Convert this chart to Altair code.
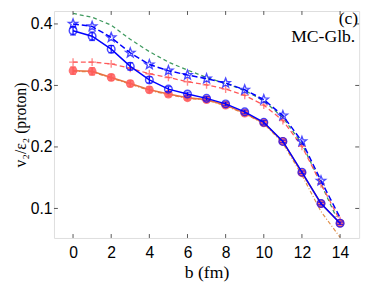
import math
import altair as alt
import pandas as pd

b = list(range(15))

star_vals = [0.400, 0.396, 0.378, 0.353, 0.334, 0.324, 0.317, 0.311, 0.304, 0.293, 0.277, 0.251, 0.209, 0.145, None]
star_line_end = 0.085
blue_circ = [0.389, 0.380, 0.359, 0.331, 0.309, 0.294, 0.286, 0.279, 0.270, 0.257, 0.240, 0.209, 0.159, 0.108, 0.076]
blue_err = [0.007, 0.007, 0.006, 0.006, 0.005, 0.004, 0.003, 0.003, 0.003, 0.003, 0.003, 0.002, 0.002, 0.002, 0.002]
red_circ = [0.324, 0.323, 0.313, 0.303, 0.293, 0.286, 0.280, 0.277, 0.268, 0.255, 0.239, 0.209, 0.158, 0.108, 0.076]
red_err = [0.006, 0.006, 0.005, 0.005, 0.005, 0.004, 0.004, 0.004, 0.003, 0.003, 0.003, 0.002, 0.002, 0.002, 0.002]
red_plus = [0.338, 0.338, 0.335, 0.328, 0.319, 0.313, 0.306, 0.301, 0.294, 0.284, 0.268, 0.243, 0.201, 0.140, 0.080]
green_b = [0, 1, 2, 3, 4, 5, 6, 7, 8, 9, 10, 11, 12, 13, 13.8]
green = [0.417, 0.411, 0.398, 0.375, 0.355, 0.338, 0.325, 0.313, 0.303, 0.292, 0.275, 0.248, 0.205, 0.140, 0.086]
orange_b = [0, 1, 2, 3, 4, 5, 6, 7, 8, 9, 10, 11, 12, 13, 14]
orange = [0.323, 0.322, 0.312, 0.302, 0.292, 0.285, 0.279, 0.276, 0.267, 0.254, 0.238, 0.206, 0.154, 0.095, 0.053]

x_ticks = [0, 2, 4, 6, 8, 10, 12, 14]
y_ticks = [0.1, 0.2, 0.3, 0.4]

W, H = 312, 232
XD = [-1, 15]
YD = [0.052, 0.421]

# marker shapes
pts = []
for k in range(10):
    r = 1.0 if k % 2 == 0 else 0.42
    a = math.radians(-90 + 36 * k)
    pts.append(f"{r*math.cos(a):.3f},{r*math.sin(a):.3f}")
STAR = "M" + "L".join(pts) + "Z"
PLUS = "M-1,0L1,0M0,-1L0,1"

xs = alt.Scale(domain=XD, nice=False)
ys = alt.Scale(domain=YD, nice=False)
X = alt.X("b:Q", scale=xs, axis=alt.Axis(values=x_ticks, title="b (fm)", ticks=False, grid=False, domain=False,
                                         labelFont="Liberation Sans", labelFontSize=16, labelColor="black",
                                         labelPadding=7, titleFont="Liberation Serif", titleFontSize=18,
                                         titleFontWeight="normal", titlePadding=3, titleColor="black"))
Y = alt.Y("v:Q", scale=ys, axis=alt.Axis(values=y_ticks, format=".1f", title="v₂/ε₂ (proton)", ticks=False,
                                         grid=False, domain=False, labelFont="Liberation Sans", labelFontSize=16,
                                         labelColor="black", labelPadding=2, titleFont="Liberation Serif",
                                         titleFontSize=16, titleFontWeight="normal", titlePadding=2,
                                         titleColor="black"))

def df(xv, yv, err=None):
    rows = []
    for i, (a, c) in enumerate(zip(xv, yv)):
        if c is None:
            continue
        r = {"b": a, "v": c}
        if err is not None:
            r["lo"] = c - err[i]
            r["hi"] = c + err[i]
        rows.append(r)
    return pd.DataFrame(rows)

d_green = df(green_b, green)
d_orange = df(orange_b, orange)
d_star = df(b, star_vals)
d_star_line = df(b, star_vals[:-1] + [star_line_end])
d_bc = df(b, blue_circ, blue_err)
d_rc = df(b, red_circ, red_err)
d_rp = df(b, red_plus)

BLUE = "#0000ff"
RED = "#ff5a5a"
layers = []
layers.append(alt.Chart(d_green).mark_line(color="#3f9a5f", strokeDash=[4, 3], strokeWidth=1.3).encode(x=X, y=Y))
layers.append(alt.Chart(d_orange).mark_line(color="#e0904a", strokeDash=[4, 2, 1, 2], strokeWidth=1.2).encode(x=X, y=Y))
layers.append(alt.Chart(d_rp).mark_line(color=RED, strokeDash=[5, 3], strokeWidth=1.3).encode(x=X, y=Y))
layers.append(alt.Chart(d_rp).mark_point(shape=PLUS, size=64, color=RED, strokeWidth=1.4, filled=False).encode(x=X, y=Y))
layers.append(alt.Chart(d_rc).mark_rule(color=RED, strokeWidth=1.5).encode(x=X, y="lo:Q", y2="hi:Q"))
layers.append(alt.Chart(d_rc).mark_tick(color=RED, orient="horizontal", size=6, thickness=1.3).encode(x=X, y=alt.Y("lo:Q")))
layers.append(alt.Chart(d_rc).mark_tick(color=RED, orient="horizontal", size=6, thickness=1.3).encode(x=X, y=alt.Y("hi:Q")))
layers.append(alt.Chart(d_rc).mark_line(color="#e87040", strokeWidth=1.6).encode(x=X, y=Y))
layers.append(alt.Chart(d_rc).mark_point(shape="circle", size=80, color=RED, filled=True, opacity=0.85).encode(x=X, y=Y))
layers.append(alt.Chart(d_star_line).mark_line(color=BLUE, strokeDash=[6, 3], strokeWidth=1.5).encode(x=X, y=Y))
layers.append(alt.Chart(d_star).mark_point(shape=STAR, size=100, color=BLUE, strokeWidth=1.4, filled=False).encode(x=X, y=Y))
layers.append(alt.Chart(d_bc).mark_rule(color=BLUE, strokeWidth=1.2).encode(x=X, y="lo:Q", y2="hi:Q"))
layers.append(alt.Chart(d_bc).mark_tick(color=BLUE, orient="horizontal", size=6, thickness=1.2).encode(x=X, y=alt.Y("lo:Q")))
layers.append(alt.Chart(d_bc).mark_tick(color=BLUE, orient="horizontal", size=6, thickness=1.2).encode(x=X, y=alt.Y("hi:Q")))
layers.append(alt.Chart(d_bc).mark_line(color=BLUE, strokeWidth=1.5).encode(x=X, y=Y))
layers.append(alt.Chart(d_bc).mark_point(shape="circle", size=60, color=BLUE, strokeWidth=1.5, filled=False).encode(x=X, y=Y))

# inward ticks
dx = pd.DataFrame({"b": x_ticks})
dy = pd.DataFrame({"v": y_ticks})
TK = "#555555"
layers.append(alt.Chart(dx).mark_rule(color=TK).encode(x=X, y=alt.value(H), y2=alt.value(H - 4)))
layers.append(alt.Chart(dx).mark_rule(color=TK).encode(x=X, y=alt.value(0), y2=alt.value(4)))
layers.append(alt.Chart(dy).mark_rule(color=TK).encode(y=Y, x=alt.value(0), x2=alt.value(4)))
layers.append(alt.Chart(dy).mark_rule(color=TK).encode(y=Y, x=alt.value(W), x2=alt.value(W - 4)))

labels = pd.DataFrame({"t": ["(c)", "MC-Glb."], "yy": [8, 27], "xx": [W - 1, W - 4]})
layers.append(alt.Chart(labels).mark_text(align="right", baseline="middle", font="Liberation Serif", fontSize=18,
                                          color="black").encode(x=alt.X("xx:Q", scale=None), y=alt.Y("yy:Q", scale=None), text="t:N"))

chart = alt.layer(*layers).properties(
    width=W, height=H, autosize=alt.AutoSizeParams(type="none"),
    padding={"left": 47, "top": 0, "right": 7, "bottom": 46},
).configure_view(stroke="#444444", strokeWidth=1.2).configure(background="white")

chart.save("out.html", embed_options={"renderer": "svg", "actions": False})
